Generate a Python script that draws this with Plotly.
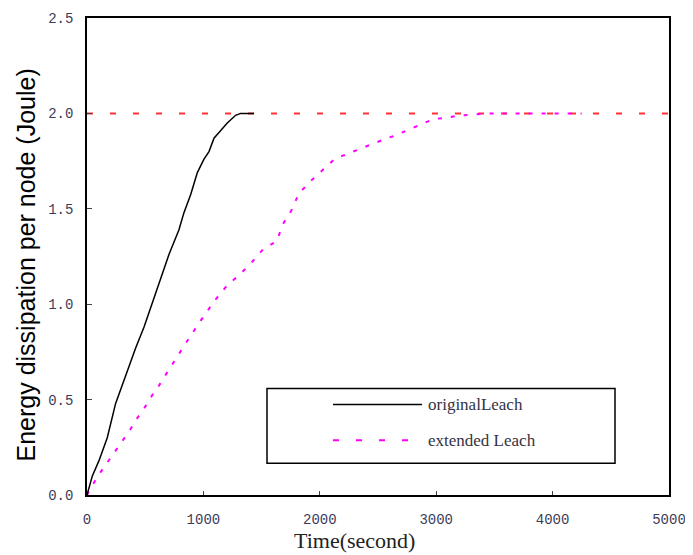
import plotly.graph_objects as go

# ---- data ----
orig_t = [0, 46, 103, 174, 246, 318, 375, 418, 490, 561, 633, 704, 790, 833, 891,
          948, 1005, 1048, 1091, 1149, 1205, 1277, 1320, 1435]
orig_e = [0.0, 0.10, 0.18, 0.30, 0.48, 0.60, 0.70, 0.77, 0.88, 1.01, 1.14, 1.26,
          1.39, 1.48, 1.575, 1.69, 1.76, 1.80, 1.87, 1.91, 1.95, 1.99, 2.0, 2.0]

ext_t = [0, 17, 89, 189, 289, 369, 410, 490, 567, 619, 690, 762, 805, 885, 977,
         1020, 1098, 1206, 1321, 1424, 1515, 1630, 1683, 1755, 1820, 1921, 2021,
         2135, 2221, 2364, 2420, 2578, 2630, 2779, 2830, 2976, 3050, 3221, 3436,
         3700, 4000, 4250]
ext_e = [0.0, 0.02, 0.096, 0.183, 0.27, 0.34, 0.383, 0.453, 0.53, 0.574, 0.644,
         0.714, 0.757, 0.83, 0.914, 0.95, 1.02, 1.10, 1.16, 1.225, 1.29, 1.33, 1.42,
         1.49, 1.58, 1.645, 1.70, 1.765, 1.784, 1.82, 1.83, 1.87, 1.88, 1.92, 1.93,
         1.97, 1.975, 1.99, 2.0, 2.0, 2.0, 2.0]

initial_t = [0, 5000]
initial_e = [2.0, 2.0]

x_ticks = [0, 1000, 2000, 3000, 4000, 5000]
y_ticks = [0.0, 0.5, 1.0, 1.5, 2.0, 2.5]
y_tick_labels = ["0.0", "0.5", "1.0", "1.5", "2.0", "2.5"]
legend_names = ["originalLeach", "extended Leach"]

tick_font = dict(family="Liberation Mono", size=14, color="#3c3c5a")

fig = go.Figure()
fig.add_trace(go.Scatter(x=initial_t, y=initial_e, mode="lines",
                         line=dict(color="#ff3333", width=2, dash="6px,17px"),
                         showlegend=False, hoverinfo="skip"))
fig.add_trace(go.Scatter(x=ext_t, y=ext_e, mode="lines", name=legend_names[1],
                         line=dict(color="#ff00ff", width=2, dash="4px,9px"),
                         showlegend=False))
fig.add_trace(go.Scatter(x=orig_t, y=orig_e, mode="lines", name=legend_names[0],
                         line=dict(color="black", width=1.5),
                         showlegend=False))

fig.update_layout(
    width=685, height=547,
    margin=dict(l=79, r=24, t=3, b=60),
    plot_bgcolor="white", paper_bgcolor="white",
    showlegend=False,
)
fig.update_xaxes(range=[0, 5000], tickvals=x_ticks, ticks="inside", ticklen=4,
                 showline=True, linecolor="black", linewidth=1.5, mirror=True,
                 showgrid=False, zeroline=False, tickfont=tick_font,
                 ticklabelstandoff=10, ticklabeloverflow="allow")
fig.update_yaxes(range=[0, 2.5], tickvals=y_ticks, ticktext=y_tick_labels,
                 ticks="inside", ticklen=5,
                 showline=True, linecolor="black", linewidth=1.5, mirror=True,
                 showgrid=False, zeroline=False, tickfont=tick_font,
                 ticklabelstandoff=9, ticklabeloverflow="allow")

# titles
fig.add_annotation(text="Energy dissipation per node (Joule)", xref="paper", yref="paper",
                   x=0, y=0.5, xshift=-62, yshift=-9, textangle=-90, showarrow=False,
                   xanchor="center", yanchor="middle",
                   font=dict(family="Liberation Sans", size=25, color="black"))
fig.add_annotation(text="Time(second)", xref="paper", yref="paper",
                   x=0.46, y=0, yshift=-45, showarrow=False,
                   xanchor="center", yanchor="middle",
                   font=dict(family="Liberation Serif", size=22, color="#222222"))

# legend box (drawn manually), positions given in page pixels
TOP_PX, BOT_PX = 16, 495

def px2x(px):
    return (px - 87) / (669 - 87)

def py2y(py):
    return (BOT_PX - py) / (BOT_PX - TOP_PX)

fig.add_shape(type="rect", xref="paper", yref="paper",
              x0=px2x(267), x1=px2x(615), y0=py2y(463), y1=py2y(388),
              line=dict(color="black", width=1.5), fillcolor="white")
fig.add_shape(type="line", xref="paper", yref="paper",
              x0=px2x(333), x1=px2x(422), y0=py2y(404), y1=py2y(404),
              line=dict(color="black", width=1.5))
fig.add_shape(type="line", xref="paper", yref="paper",
              x0=px2x(333), x1=px2x(412), y0=py2y(440), y1=py2y(440),
              line=dict(color="#ff00ff", width=2, dash="6px,17px"))
fig.add_annotation(text=legend_names[0], xref="paper", yref="paper",
                   x=px2x(426), y=py2y(404), xanchor="left", yanchor="middle",
                   showarrow=False,
                   font=dict(family="Liberation Serif", size=17, color="#333344"))
fig.add_annotation(text=legend_names[1], xref="paper", yref="paper",
                   x=px2x(426), y=py2y(440), xanchor="left", yanchor="middle",
                   showarrow=False,
                   font=dict(family="Liberation Serif", size=17, color="#333344"))

fig.write_html("out.html")
